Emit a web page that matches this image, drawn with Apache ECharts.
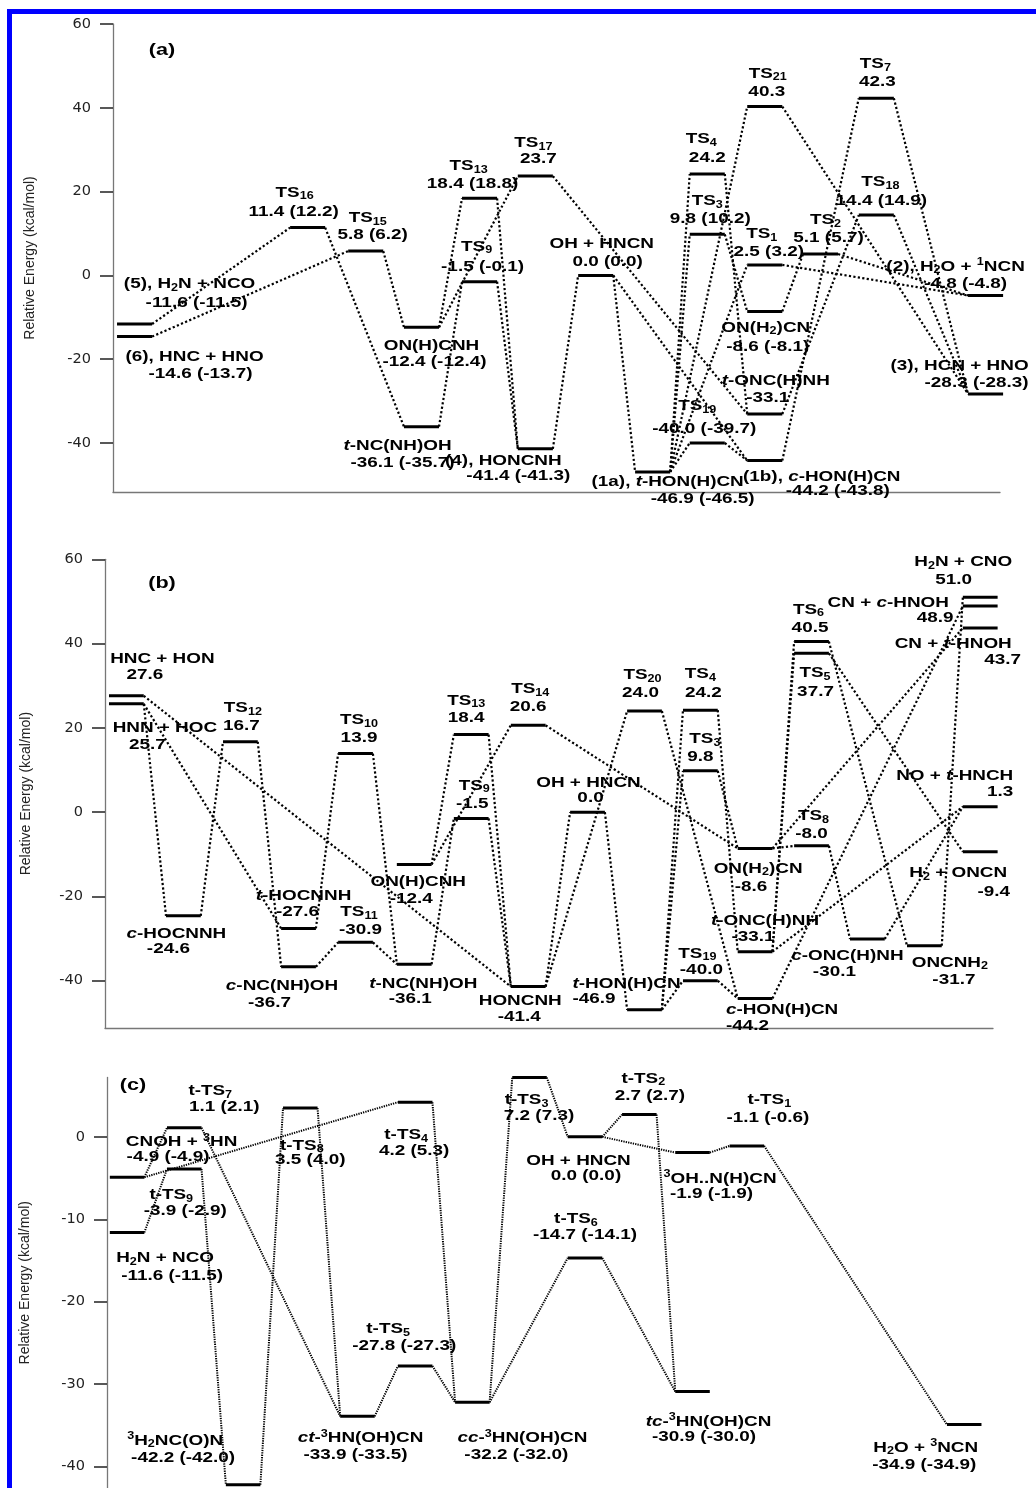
<!DOCTYPE html>
<html><head><meta charset="utf-8">
<script src="https://cdn.jsdelivr.net/npm/echarts@6/dist/echarts.min.js"></script>
<style>html,body{margin:0;padding:0;background:#fff}#c{width:1036px;height:1488px}</style>
</head><body><div id="c"></div>
<script>
// ---------------- Panel (a) ----------------
const aIds    = ['p5','p6','TS16','TS15','ONHCNH','tNCNHOH','TS13','TS9','TS17','HONCNH','OH','1a','TS4','TS3','TS19','TS21','TS1','ONH2CN','tONCHNH','1b','TS2','TS7','TS18','p2','p3'];
const aNames  = ['(5), H{s|2}N + NCO','(6), HNC + HNO','TS{s|16}','TS{s|15}','ON(H)CNH','{i|t}-NC(NH)OH','TS{s|13}','TS{s|9}','TS{s|17}','(4), HONCNH','OH + HNCN','(1a), {i|t}-HON(H)CN','TS{s|4}','TS{s|3}','TS{s|19}','TS{s|21}','TS{s|1}','ON(H{s|2})CN','{i|t}-ONC(H)NH','(1b), {i|c}-HON(H)CN','TS{s|2}','TS{s|7}','TS{s|18}','(2), H{s|2}O + {u|1}NCN','(3), HCN + HNO'];
const aEnergy = [-11.6,-14.6,11.4,5.8,-12.4,-36.1,18.4,-1.5,23.7,-41.4,0.0,-46.9,24.2,9.8,-40.0,40.3,2.5,-8.6,-33.1,-44.2,5.1,42.3,14.4,-4.8,-28.3];
const aAlt    = [-11.5,-13.7,12.2,6.2,-12.4,-35.7,18.8,-0.1,null,-41.3,0.0,-46.5,null,10.2,-39.7,null,3.2,-8.1,null,-43.8,5.7,null,14.9,-4.8,-28.3];
const aPos    = [0.07,0.07,3.08,4.09,5.06,5.06,6.07,6.07,7.04,7.04,8.09,9.08,10.03,10.03,10.03,11.03,11.03,11.03,11.03,11.03,12.0,12.97,12.97,14.87,14.87];
const aLinks  = [['p5','TS16'],['p6','TS15'],['TS16','tNCNHOH'],['TS15','ONHCNH'],['ONHCNH','TS13'],['ONHCNH','TS17'],['tNCNHOH','TS9'],['TS13','HONCNH'],['TS9','HONCNH'],['TS17','tONCHNH'],['HONCNH','OH'],['OH','1a'],['OH','1b'],['1a','TS19'],['TS19','1b'],['1a','TS3'],['1a','TS4'],['1a','TS21'],['1a','TS1'],['TS3','ONH2CN'],['TS4','tONCHNH'],['ONH2CN','TS2'],['TS1','p2'],['TS2','p2'],['1b','TS7'],['tONCHNH','TS18'],['TS7','p3'],['TS18','p3'],['TS21','p3']];

// ---------------- Panel (b) ----------------
const bIds    = ['HNC_HON','HNN_HOC','cHOCNNH','TS12','tHOCNNH','cNCNHOH','TS10','TS11','ONHCNH','tNCNHOH','TS13','TS9','TS14','HONCNH','OH','TS20','tHONHCN','TS4','TS3','TS19','ONH2CN','tONCHNH','cHONHCN','TS6','TS5','TS8','cONCHNH','ONCNH2','H2NCNO','CNcHNOH','CNtHNOH','NOHNCH','H2ONCN'];
const bNames  = ['HNC + HON','HNN + HOC','{i|c}-HOCNNH','TS{s|12}','{i|t}-HOCNNH','{i|c}-NC(NH)OH','TS{s|10}','TS{s|11}','ON(H)CNH','{i|t}-NC(NH)OH','TS{s|13}','TS{s|9}','TS{s|14}','HONCNH','OH + HNCN','TS{s|20}','{i|t}-HON(H)CN','TS{s|4}','TS{s|3}','TS{s|19}','ON(H{s|2})CN','{i|t}-ONC(H)NH','{i|c}-HON(H)CN','TS{s|6}','TS{s|5}','TS{s|8}','{i|c}-ONC(H)NH','ONCNH{s|2}','H{s|2}N + CNO','CN + {i|c}-HNOH','CN + {i|t}-HNOH','NO + {i|t}-HNCH','H{s|2} + ONCN'];
const bEnergy = [27.6,25.7,-24.6,16.7,-27.6,-36.7,13.9,-30.9,-12.4,-36.1,18.4,-1.5,20.6,-41.4,0.0,24.0,-46.9,24.2,9.8,-40.0,-8.6,-33.1,-44.2,40.5,37.7,-8.0,-30.1,-31.7,51.0,48.9,43.7,1.3,-9.4];
const bPos    = [0.07,0.07,1.07,2.07,3.09,3.09,4.09,4.09,5.12,5.12,6.12,6.12,7.12,7.12,8.16,9.16,9.16,10.14,10.14,10.14,11.1,11.1,11.1,12.09,12.09,12.09,13.07,14.07,15.05,15.05,15.05,15.05,15.05];
const bLinks  = [['HNC_HON','HONCNH'],['HNN_HOC','cHOCNNH'],['HNN_HOC','tHOCNNH'],['cHOCNNH','TS12'],['TS12','cNCNHOH'],['tHOCNNH','TS10'],['TS10','tNCNHOH'],['cNCNHOH','TS11'],['TS11','tNCNHOH'],['tNCNHOH','TS9'],['ONHCNH','TS13'],['ONHCNH','TS14'],['TS13','HONCNH'],['TS9','HONCNH'],['TS14','ONH2CN'],['HONCNH','OH'],['HONCNH','TS20'],['OH','tHONHCN'],['TS20','cHONHCN'],['tHONHCN','TS4'],['tHONHCN','TS3'],['tHONHCN','TS19'],['TS19','cHONHCN'],['TS3','ONH2CN'],['TS4','tONCHNH'],['tONCHNH','TS6'],['tONCHNH','TS5'],['TS6','ONCNH2'],['TS5','H2ONCN'],['ONH2CN','TS8'],['TS8','cONCHNH'],['cONCHNH','NOHNCH'],['tONCHNH','NOHNCH'],['ONCNH2','H2NCNO'],['ONH2CN','CNtHNOH'],['cHONHCN','CNcHNOH']];

// ---------------- Panel (c) ----------------
const cIds    = ['CNOH','H2NNCO','tTS7','tTS9','H2NCON','tTS8','ct','tTS4','tTS5','cc','tTS3','OH','tTS6','tTS2','OHN','tc','tTS1','H2ONCN'];
const cNames  = ['CNOH + {u|3}HN','H{s|2}N + NCO','t-TS{s|7}','t-TS{s|9}','{u|3}H{s|2}NC(O)N','t-TS{s|8}','{i|ct}-{u|3}HN(OH)CN','t-TS{s|4}','t-TS{s|5}','{i|cc}-{u|3}HN(OH)CN','t-TS{s|3}','OH + HNCN','t-TS{s|6}','t-TS{s|2}','{u|3}OH..N(H)CN','{i|tc}-{u|3}HN(OH)CN','t-TS{s|1}','H{s|2}O + {u|3}NCN'];
const cEnergy = [-4.9,-11.6,1.1,-3.9,-42.2,3.5,-33.9,4.2,-27.8,-32.2,7.2,0.0,-14.7,2.7,-1.9,-30.9,-1.1,-34.9];
const cAlt    = [-4.9,-11.5,2.1,-2.9,-42.0,4.0,-33.5,5.3,-27.3,-32.0,7.3,0.0,-14.1,2.7,-1.9,-30.0,-0.6,-34.9];
const cPos    = [0.05,0.05,1.06,1.06,2.1,3.11,4.12,5.14,5.14,6.15,7.16,8.14,8.14,9.1,10.04,10.04,11.0,14.84];
const cLinks  = [['CNOH','tTS7'],['CNOH','tTS4'],['H2NNCO','tTS9'],['tTS7','ct'],['tTS9','H2NCON'],['H2NCON','tTS8'],['tTS8','ct'],['ct','tTS5'],['tTS4','cc'],['tTS5','cc'],['cc','tTS3'],['cc','tTS6'],['tTS3','OH'],['OH','tTS2'],['OH','OHN'],['tTS6','tc'],['tTS2','tc'],['OHN','tTS1'],['tTS1','H2ONCN']];

const yTicksAB = [-40,-20,0,20,40,60];
const yTicksC  = [-40,-30,-20,-10,0];

// ---------------- Layout (label offsets in px: [dx1,dy1,dx2,dy2]) ----------------
const aLab = [[55,-40,62,-21],[60,20,66,37],[-13,-35,-14,-16],[2,-33,7,-16],[10,19,13,35],[-24,19,-19,36],[-11,-32,-7,-14],[-3,-35,3,-15],[-2,-33,3,-17],[-32,12,-17,27],[6,-32,12,-14],[15,10,50,27],[-6,-35,0,-16],[0,-33,3,-15],[-10,-37,-3,-14],[3,-33,2,-15],[-3,-31,4,-13],[1,16,3,35],[11,-33,3,-16],[57,16,73,30],[5,-34,8,-16],[-1,-34,1,-16],[4,-33,5,-14],[-30,-29,-20,-12],[-26,-28,-9,-11]];
const bLab = [[36,-37,18.5,-21],[38.5,24,21,41],[-7,18,-15,33],[2.5,-34,1,-16],[5,-33,-1,-17],[-16.5,19,-29,36],[3.5,-33.5,3.5,-15.5],[3.5,-30.6,5,-12],[4,17,-3,34],[9,20,-4,35],[-5,-34,-5,-17],[3,-33,1,-15],[2,-36.5,0,-18.6],[-8,14,-9,30],[1,-29,3,-14],[-2,-36,-4,-18.5],[-18,-26,-50.5,-11],[0,-36,3,-17],[4.5,-32,0,-14],[-3,-27,1,-11],[3,20,-4,38],[10,-31,-2,-15],[27,11,-7.5,27],[-3,-32,-1.5,-14],[3.5,20,4,38.5],[2,-30,0,-12],[-20,17,-33,33],[25.5,17,29.5,34],[-17,-35,-26.5,-17],[-92,-3.5,-45,12],[-27,16,22.5,32],[-25.5,-31,20,-15],[-22,21,13.5,40]];
const cLab = [[54.5,-35,41,-20],[38,25.5,45,43],[26,-37,40,-21],[-13,26,1,42],[-68,-44,-60,-27],[1.5,37.5,10,52],[3,22,-2,39],[-9,33,-1,49],[-27,-37,-11,-20],[50,36,44,53],[-3,22.5,9.5,38],[-6.5,24,1,39],[-9,-39,0,-23.5],[4,-36,10.5,-19],[27.5,26,19,41],[16,30,11.5,45],[22.5,-46,21,-28],[-38.5,23,-40,40.5]];

const LEVEL_W = 0.61;
const FAM = '"Liberation Sans", Arial, Helvetica, sans-serif';
const TXT_SCALE = 1.26;
function base(sz, extra) { return Object.assign({fontSize: sz, fontWeight: 'bold', fontFamily: FAM, fill: '#000'}, extra || {}); }
const RICH = {
  s: base(10, {padding: [8, 0, 0, 0]}),
  u: base(10, {padding: [0, 0, 8, 0]}),
  i: base(15, {fontStyle: 'italic'})
};
function fmt(e, alt) {
  let s = e.toFixed(1);
  if (alt !== null && alt !== undefined) s += ' (' + alt.toFixed(1) + ')';
  return s;
}

function levelSeries(gi, ids, names, energy, alt, pos, lab) {
  return {
    type: 'custom', xAxisIndex: gi, yAxisIndex: gi, silent: true, z: 5,
    data: pos.map((p, i) => [p, energy[i]]),
    renderItem: function (params, api) {
      const i = params.dataIndex;
      const p0 = api.coord([pos[i], energy[i]]);
      const p1 = api.coord([pos[i] + LEVEL_W, energy[i]]);
      const cx = (p0[0] + p1[0]) / 2, cy = p0[1];
      const o = lab[i];
      const mk = (t, dx, dy) => ({
        type: 'text', x: cx + dx, y: cy + dy, scaleX: TXT_SCALE, z2: 10,
        style: Object.assign(base(15), {text: t, rich: RICH, align: 'center', verticalAlign: 'middle'})
      });
      return {type: 'group', children: [
        {type: 'line', shape: {x1: p0[0], y1: cy, x2: p1[0], y2: cy}, style: {stroke: '#000', lineWidth: 3}},
        mk(names[i], o[0], o[1]),
        mk(fmt(energy[i], alt ? alt[i] : null), o[2], o[3])
      ]};
    }
  };
}

function linkSeries(gi, ids, energy, pos, links, dash, lw) {
  return {
    type: 'custom', xAxisIndex: gi, yAxisIndex: gi, silent: true, z: 3,
    data: links.map((l, k) => [k, 0]),
    renderItem: function (params, api) {
      const l = links[params.dataIndex];
      let a = ids.indexOf(l[0]), b = ids.indexOf(l[1]);
      if (pos[a] > pos[b]) { const t = a; a = b; b = t; }
      const p0 = api.coord([pos[a] + LEVEL_W, energy[a]]);
      const p1 = api.coord([pos[b], energy[b]]);
      return {type: 'line', shape: {x1: p0[0], y1: p0[1], x2: p1[0], y2: p1[1]},
        style: {stroke: '#000', lineWidth: lw, lineDash: dash}};
    }
  };
}

function yAxis(gi, min, max, ticks, gap) {
  return {
    type: 'value', gridIndex: gi, min: min, max: max,
    axisLine: {show: true, onZero: false, lineStyle: {color: '#777', width: 1.3}},
    axisTick: {show: true, length: 13, customValues: ticks, lineStyle: {color: '#222', width: 1.5}},
    axisLabel: {customValues: ticks, margin: 22, fontFamily: '"DejaVu Sans", sans-serif', fontSize: 14.5, color: '#222'},
    splitLine: {show: false},
    name: 'Relative Energy (kcal/mol)', nameLocation: 'middle', nameGap: gap,
    nameTextStyle: {fontFamily: FAM, fontSize: 14, color: '#222'}
  };
}
function xAxis(gi, max, show) {
  return {
    type: 'value', gridIndex: gi, min: 0, max: max,
    axisLine: {show: show, onZero: false, lineStyle: {color: '#777', width: 1.3}},
    axisTick: {show: false}, axisLabel: {show: false}, splitLine: {show: false}
  };
}

const chart = echarts.init(document.getElementById('c'), null, {renderer: 'canvas'});
chart.setOption({
  animation: false,
  backgroundColor: '#fff',
  grid: [
    {left: 113, top: 24, width: 887, height: 468},
    {left: 105, top: 559.3, width: 888, height: 468.6},
    {left: 107, top: 1077.5, width: 893, height: 413.4}
  ],
  xAxis: [xAxis(0, 887 / 57.5, true), xAxis(1, 888 / 57, true), xAxis(2, 893 / 56.6, false)],
  yAxis: [yAxis(0, -51.7, 60, yTicksAB, 76), yAxis(1, -51.2, 60, yTicksAB, 72), yAxis(2, -42.6, 7.2, yTicksC, 75)],
  graphic: [
    {type: 'rect', shape: {x: 7, y: 9, width: 1029, height: 5}, style: {fill: '#0000ff'}, silent: true},
    {type: 'rect', shape: {x: 7, y: 9, width: 5, height: 1479}, style: {fill: '#0000ff'}, silent: true},
    {type: 'text', x: 162, y: 51, scaleX: 1.35, style: {text: '(a)', font: 'bold 16px ' + FAM, fill: '#000', align: 'center', verticalAlign: 'middle'}},
    {type: 'text', x: 162, y: 584, scaleX: 1.35, style: {text: '(b)', font: 'bold 16px ' + FAM, fill: '#000', align: 'center', verticalAlign: 'middle'}},
    {type: 'text', x: 133, y: 1086, scaleX: 1.35, style: {text: '(c)', font: 'bold 16px ' + FAM, fill: '#000', align: 'center', verticalAlign: 'middle'}}
  ],
  series: [
    linkSeries(0, aIds, aEnergy, aPos, aLinks, [2.2, 2.3], 2.2),
    linkSeries(1, bIds, bEnergy, bPos, bLinks, [2.2, 2.3], 2.2),
    linkSeries(2, cIds, cEnergy, cPos, cLinks, [1.3, 1.1], 2),
    levelSeries(0, aIds, aNames, aEnergy, aAlt, aPos, aLab),
    levelSeries(1, bIds, bNames, bEnergy, null, bPos, bLab),
    levelSeries(2, cIds, cNames, cEnergy, cAlt, cPos, cLab)
  ]
});
</script>
</body></html>
